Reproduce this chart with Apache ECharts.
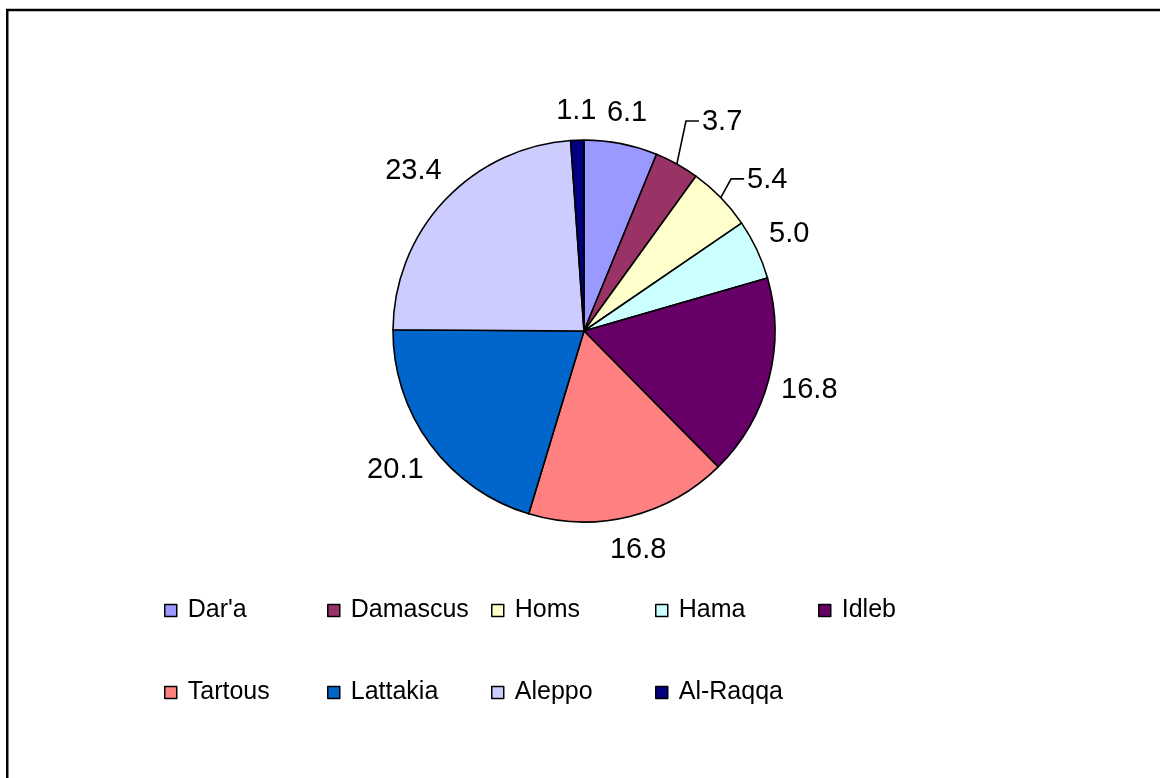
<!DOCTYPE html>
<html>
<head>
<meta charset="utf-8">
<script src="https://cdn.jsdelivr.net/npm/echarts@6/dist/echarts.min.js"></script>
<style>
  html, body { margin: 0; padding: 0; background: #ffffff; }
  #chart { width: 1160px; height: 778px; }
</style>
</head>
<body>
<div id="chart"></div>
<script>
// Share of each governorate (%)
const governorates = ["Dar'a", "Damascus", "Homs", "Hama", "Idleb", "Tartous", "Lattakia", "Aleppo", "Al-Raqqa"];
const shares = [6.1, 3.7, 5.4, 5.0, 16.8, 16.8, 20.1, 23.4, 1.1];
const sliceColors = ['#9999FF', '#993366', '#FFFFCC', '#CCFFFF', '#660066', '#FF8080', '#0066CC', '#CCCCFF', '#000080'];

const FONT = '"Liberation Sans", Arial, sans-serif';
const PIE_CENTER = [584, 331];
const PIE_RADIUS = 191;
const LABEL_GAP = 10;      // space between rim and the label box
const LABEL_BOX_H = 36;    // label box height used for placement
// labels dragged away from their slice and tied back with a leader line
const pulledLabels = { 'Damascus': [28, -11], 'Homs': [20, 8] };

const total = shares.reduce((a, b) => a + b, 0);
function midAngle(i) {
  let before = 0;
  for (let k = 0; k < i; k++) before += shares[k];
  return (before + shares[i] / 2) / total * 2 * Math.PI;
}

const legendCols = [164, 327, 491, 655, 818];
const legendRows = [598, 680];
const legends = governorates.map((name, i) => ({
  data: [name],
  left: legendCols[i % 5],
  top: legendRows[Math.floor(i / 5)],
  padding: 0,
  orient: 'horizontal',
  icon: 'rect',
  itemWidth: 12,
  itemHeight: 12,
  selectedMode: false,
  itemStyle: { borderColor: '#000000', borderWidth: 1.5 },
  textStyle: {
    fontFamily: FONT,
    fontSize: 25,
    color: '#000000',
    lineHeight: 24,
    padding: [0, 0, 0, 6]
  }
}));

const pieData = governorates.map((name, i) => {
  const item = { name: name, value: shares[i], itemStyle: { color: sliceColors[i] } };
  if (pulledLabels[name]) {
    item.labelLine = { show: true, lineStyle: { color: '#000000', width: 1.6 } };
  }
  return item;
});

const chart = echarts.init(document.getElementById('chart'), null, { renderer: 'canvas' });
chart.setOption({
  animation: false,
  backgroundColor: '#ffffff',
  graphic: [{
    type: 'rect',
    shape: { x: 7.25, y: 10, width: 1200, height: 800 },
    style: { fill: 'none', stroke: '#000000', lineWidth: 2.5 },
    silent: true,
    z: 100
  }],
  legend: legends,
  series: [{
    type: 'pie',
    center: PIE_CENTER,
    radius: PIE_RADIUS,
    startAngle: 90,
    clockwise: true,
    avoidLabelOverlap: false,
    emphasis: { disabled: true },
    itemStyle: { borderColor: '#000000', borderWidth: 1.6 },
    label: {
      show: true,
      position: 'outside',
      fontFamily: FONT,
      fontSize: 29,
      color: '#000000',
      formatter: (p) => p.value.toFixed(1)
    },
    labelLine: { show: false, length: 5, length2: 5 },
    labelLayout: function (p) {
      const i = p.dataIndex;
      const a = midAngle(i);
      const ux = Math.sin(a), uy = -Math.cos(a);
      const w = p.labelRect.width;
      const support = Math.abs(ux) * w / 2 + Math.abs(uy) * LABEL_BOX_H / 2;
      const d = PIE_RADIUS + LABEL_GAP + support;
      let cx = PIE_CENTER[0] + ux * d;
      let cy = PIE_CENTER[1] + uy * d;
      const shift = pulledLabels[governorates[i]];
      if (!shift) {
        return { x: cx, y: cy, align: 'center', verticalAlign: 'middle' };
      }
      cx += shift[0];
      cy += shift[1];
      const left = cx - w / 2;
      const ex = PIE_CENTER[0] + ux * PIE_RADIUS;
      const ey = PIE_CENTER[1] + uy * PIE_RADIUS;
      return {
        x: cx, y: cy, align: 'center', verticalAlign: 'middle',
        labelLinePoints: [[ex, ey], [left - 16, cy - 1], [left - 3, cy - 1]]
      };
    },
    data: pieData
  }]
});
</script>
</body>
</html>
